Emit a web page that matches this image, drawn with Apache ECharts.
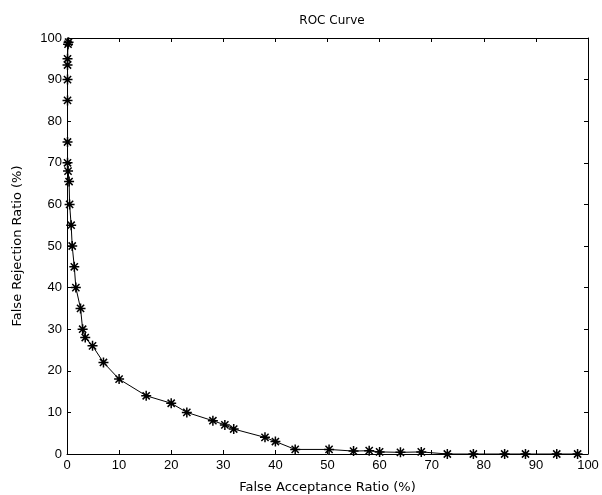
<!DOCTYPE html>
<html>
<head>
<meta charset="utf-8">
<script src="https://cdn.jsdelivr.net/npm/echarts@6/dist/echarts.min.js"></script>
<style>html,body{margin:0;padding:0;background:#fff;}#c{width:602px;height:495px;}</style>
</head>
<body>
<div id="c"></div>
<script>
var farValues = [0.3,0.2,0.1,0.1,0.1,0.1,0.1,0.1,0.2,0.4,0.5,0.8,1.0,1.4,1.7,2.6,3.0,3.5,4.9,7.0,10,15.2,20,23,28,30.3,32,38,40,43.8,50.3,55,58,60,64,68,73,78,84,88,94,98];
var frrValues = [99,98.5,95,93.5,90,85,75,70,68,65.5,60,55,50,45,40,35,30,28,26,22,18,14,12.2,10,8,7,6,4,3,1.1,1.1,0.7,0.8,0.5,0.4,0.5,0,0,0,0,0,0];
var tickValues = [0,10,20,30,40,50,60,70,80,90,100];
var titleText = 'ROC Curve';
var xName = 'False Acceptance Ratio (%)';
var yName = 'False Rejection Ratio (%)';

var data = farValues.map(function(x,i){ return [x, frrValues[i]]; });
var star = 'path://M0,-5L0,5M-5,0L5,0M-3.6,-3.6L3.6,3.6M-3.6,3.6L3.6,-3.6';
var tickFont = {fontFamily:'Liberation Sans, Arial', fontSize:13, color:'#000'};
function axisBase(pos, showLabel){
  return {
    type:'value', min:0, max:100, interval:10, position:pos,
    axisLine:{show:true, onZero:false, lineStyle:{color:'#000', width:1}},
    axisTick:{show:true, inside:true, length:4, lineStyle:{color:'#000'}},
    axisLabel:Object.assign({show:showLabel, margin:5}, tickFont),
    splitLine:{show:false}
  };
}
var xMain = axisBase('bottom', true);
xMain.name = xName; xMain.nameLocation='middle'; xMain.nameGap=27;
xMain.nameTextStyle = {fontFamily:'DejaVu Sans', fontSize:13, color:'#000'};
var yMain = axisBase('left', true);
yMain.name = yName; yMain.nameLocation='middle'; yMain.nameGap=43;
yMain.nameTextStyle = {fontFamily:'DejaVu Sans', fontSize:13, color:'#000'};
var xTop = axisBase('top', false);
var yRight = axisBase('right', false);

var chart = echarts.init(document.getElementById('c'));
chart.setOption({
  animation:false,
  backgroundColor:'#fff',
  title:{text:titleText, left:327, top:10, textAlign:'center',
    textStyle:{fontFamily:'DejaVu Sans', fontSize:12, fontWeight:'normal', color:'#000'}},
  grid:{left:67, top:38, right:14, bottom:41, containLabel:false, outerBoundsMode:'none'},
  xAxis:[xMain, xTop],
  yAxis:[yMain, yRight],
  series:[{
    type:'line', data:data, xAxisIndex:0, yAxisIndex:0,
    symbol:star, symbolSize:10, showAllSymbol:true,
    lineStyle:{color:'#000', width:1},
    itemStyle:{color:'rgba(0,0,0,0)', borderColor:'#000', borderWidth:1.5}
  }]
});
</script>
</body>
</html>
